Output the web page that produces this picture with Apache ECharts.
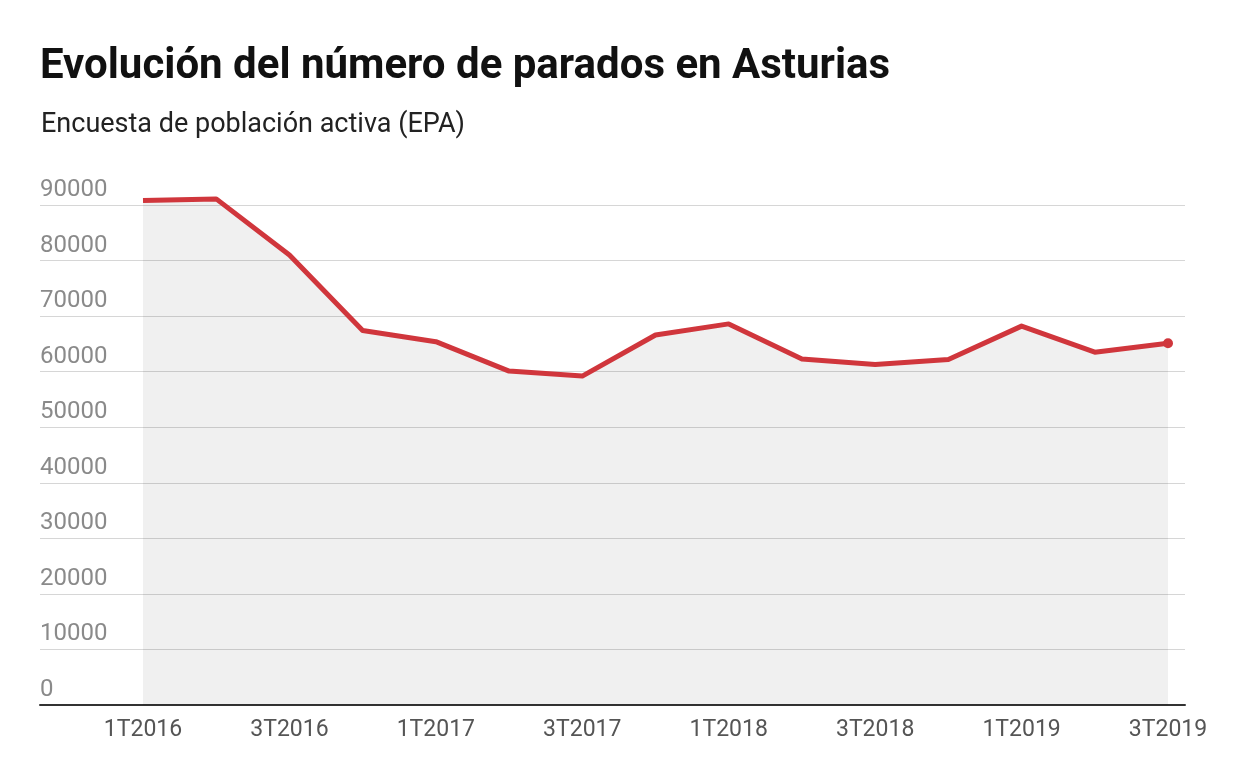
<!DOCTYPE html>
<html>
<head>
<meta charset="utf-8">
<script src="https://cdn.jsdelivr.net/npm/echarts@6/dist/echarts.min.js"></script>
<style>
html,body{margin:0;padding:0;background:#fff;}
#chart{width:1248px;height:770px;}
</style>
</head>
<body>
<div id="chart"></div>
<script>
const titleText = "Evolución del número de parados en Asturias";
const subtitleText = "Encuesta de población activa (EPA)";
const quarters = ["1T2016","2T2016","3T2016","4T2016","1T2017","2T2017","3T2017","4T2017","1T2018","2T2018","3T2018","4T2018","1T2019","2T2019","3T2019"];
const parados = [90800,91100,81000,67400,65400,60100,59200,66600,68600,62300,61300,62200,68200,63500,65100];
const yMin = 0, yMax = 90000, yStep = 10000;

const chart = echarts.init(document.getElementById('chart'));
const seriesData = parados.map((v, i) => i === parados.length - 1
  ? { value: v, symbol: 'circle', symbolSize: 10 }
  : { value: v, symbol: 'none' });

chart.setOption({
  animation: false,
  backgroundColor: '#fff',
  title: [
    { text: titleText, left: 35, top: 41,
      textStyle: { fontFamily: 'Roboto', fontWeight: 'bold', fontSize: 42, color: '#111' } },
    { text: subtitleText, left: 36, top: 107,
      textStyle: { fontFamily: 'Roboto', fontWeight: 'normal', fontSize: 27, color: '#222' } }
  ],
  grid: [
    { left: 40, right: 63, top: 205, bottom: 65 },
    { left: 143, right: 80, top: 205, bottom: 65 }
  ],
  xAxis: [
    { type: 'category', gridIndex: 0, data: quarters, boundaryGap: false,
      axisLine: { show: true, lineStyle: { color: '#333', width: 2 } },
      axisTick: { show: false }, axisLabel: { show: false }, splitLine: { show: false } },
    { type: 'category', gridIndex: 1, data: quarters, boundaryGap: false,
      axisLine: { show: false }, axisTick: { show: false },
      axisLabel: { interval: 1, margin: 14, color: '#555', fontFamily: 'Roboto', fontSize: 23 },
      splitLine: { show: false } }
  ],
  yAxis: [
    { type: 'value', gridIndex: 0, min: yMin, max: yMax, interval: yStep,
      axisLine: { show: false }, axisTick: { show: false },
      axisLabel: { inside: true, margin: 0, align: 'left', verticalAlign: 'bottom',
        padding: [0, 0, 3, 0], color: '#8a8a8a', fontFamily: 'Roboto', fontSize: 24,
        formatter: v => String(v) },
      splitLine: { show: true, lineStyle: { color: '#d6d6d6', width: 1.2 } } },
    { type: 'value', gridIndex: 1, min: yMin, max: yMax, interval: yStep, show: false,
      splitLine: { show: false } }
  ],
  series: [
    { type: 'line', xAxisIndex: 1, yAxisIndex: 1, data: seriesData, clip: false,
      showSymbol: true, symbol: 'none',
      lineStyle: { color: '#d0363c', width: 5, join: 'round' },
      itemStyle: { color: '#d0363c' },
      areaStyle: { color: 'rgba(0,0,0,0.085)' },
      z: 1 }
  ]
});
</script>
</body>
</html>
